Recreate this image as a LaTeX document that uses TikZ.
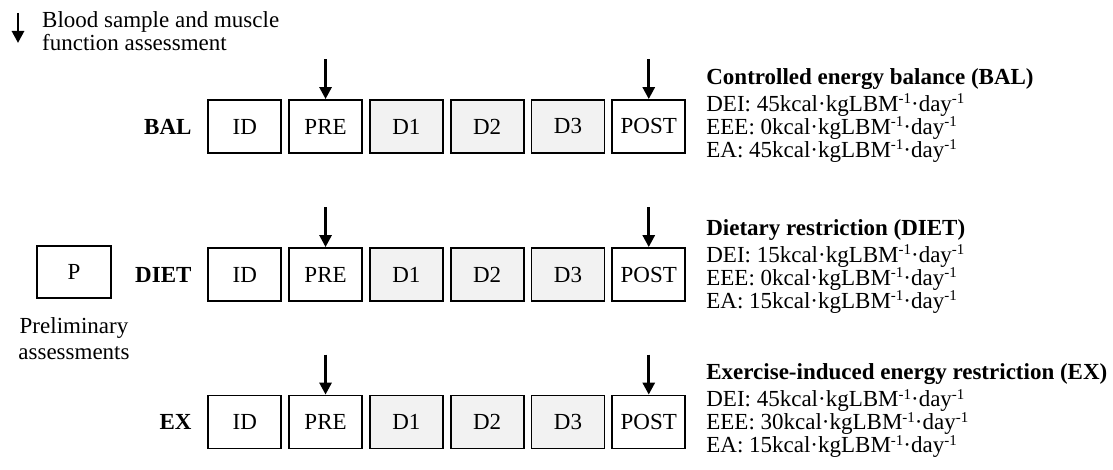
\documentclass[tikz,border=0pt]{standalone}
\usepackage{fontspec}
\setmainfont{Liberation Serif}
\usetikzlibrary{positioning,arrows.meta}
\definecolor{dayfill}{HTML}{F2F2F2}
\newcommand\perunit[1]{\raisebox{0.32em}{\fontsize{15}{15}\selectfont #1}}
\begin{document}
\begin{tikzpicture}[x=1pt,y=-1pt]
\fontsize{23}{23}\selectfont
\tikzset{
    stage/.style={draw, line width=1.8pt, minimum width=73pt, minimum height=53pt, inner sep=0pt},
    day/.style={stage, fill=dayfill},
    group/.style={font=\bfseries},
    info/.style={anchor=north west, align=left, inner sep=0pt},
    sample/.style={-{Triangle[width=12pt,length=12pt]}, line width=2.8pt},
}
\def\kcal{kcal·kgLBM\perunit{-1}·day\perunit{-1}}
\useasboundingbox (0,0) rectangle (1113,470);

% Legend for the arrows.
\coordinate (leg-top) at (18,13);
\coordinate (leg-tip) at (18,43);
\draw[sample] (leg-top) -- (leg-tip);
\node[info] (legend) at (42,11) {Blood sample and muscle\\function assessment};

% Preliminary visit.
\node[stage, minimum width=74pt, minimum height=52pt] (P) at (74,272) {P};
\node[below=18pt of P, align=center, inner sep=0pt] (prelim) {Preliminary\\[3pt]assessments};

% One row of visits per condition, with the sampling arrows above PRE and POST.
\foreach \row/\y in {BAL/126.5, DIET/274.5, EX/422}{
    \node[stage] (\row-ID) at (244.75,\y) {ID};
    \node[stage, right=6pt of \row-ID] (\row-PRE) {PRE};
    \node[day, right=6pt of \row-PRE] (\row-D1) {D1};
    \node[day, right=6pt of \row-D1] (\row-D2) {D2};
    \node[day, right=6pt of \row-D2] (\row-D3) {D3};
    \node[stage, right=6pt of \row-D3] (\row-POST) {POST};
    \node[group, left=8pt of \row-ID] (\row-name) {\row};
    \coordinate (\row-a1) at ([yshift=40pt]\row-PRE.north);
    \coordinate (\row-a2) at ([yshift=40pt]\row-POST.north);
    \draw[sample] (\row-a1) -- (\row-PRE.north);
    \draw[sample] (\row-a2) -- (\row-POST.north);
}

% Energy intake, expenditure and availability of each condition.
\node[info] (BAL-info) at ([xshift=20pt,yshift=31pt]BAL-POST.north east)
    {\textbf{Controlled energy balance (BAL)}\\[4pt]DEI: 45\kcal\\EEE: 0\kcal\\EA: 45\kcal};
\node[info] (DIET-info) at ([xshift=20pt,yshift=28pt]DIET-POST.north east)
    {\textbf{Dietary restriction (DIET)}\\[4pt]DEI: 15\kcal\\EEE: 0\kcal\\EA: 15\kcal};
\node[info] (EX-info) at ([xshift=20pt,yshift=31pt]EX-POST.north east)
    {\textbf{Exercise-induced energy restriction (EX)}\\[4pt]DEI: 45\kcal\\EEE: 30\kcal\\EA: 15\kcal};
\end{tikzpicture}
\end{document}
